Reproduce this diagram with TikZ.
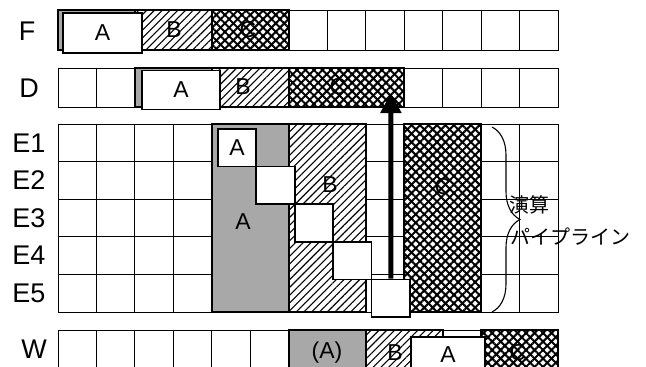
\documentclass[tikz,border=0pt]{standalone}
\usepackage{fontspec}
\setmainfont{Liberation Sans}
\newfontfamily\jpfont{Noto Sans CJK JP}
\usetikzlibrary{patterns.meta,arrows.meta,decorations.pathreplacing}
\tikzset{
 gridl/.style={draw=black, line width=0.9pt},
 rim/.style={draw=black, line width=1.8pt},
 stA/.style={fill=black!34},
 stB/.style={preaction={fill=white}, pattern={Lines[angle=45,distance=5.5pt,line width=1.1pt]}},
 stC/.style={preaction={fill=white}, preaction={pattern={Lines[angle=45,distance=6pt,line width=2pt]}}, pattern={Lines[angle=-45,distance=6pt,line width=2pt]}},
 wbox/.style={draw=black, line width=1.6pt, fill=white, inner sep=0pt, font=\fontsize{23}{23}\selectfont},
 rowlab/.style={font=\fontsize{27}{27}\selectfont, inner sep=0pt},
 stagelet/.style={font=\fontsize{23}{23}\selectfont, inner sep=0pt},
 jptext/.style={font=\jpfont\fontsize{20}{20}\selectfont, inner sep=0pt, anchor=west},
}
\begin{document}
\begin{tikzpicture}[x=1pt,y=-1pt, declare function={cx(\k)=58+38.4615*\k; ey(\r)=124+37.6*\r;}]
\useasboundingbox (0,0) rectangle (646,367);
% grids
\foreach \k in {0,...,12}{
  \draw[gridl] ({cx(\k)},10) rectangle ({cx(\k+1)},50);
  \draw[gridl] ({cx(\k)},68) rectangle ({cx(\k+1)},107);
  \draw[gridl] ({cx(\k)},330) rectangle ({cx(\k+1)},368);
  \foreach \r in {0,...,4}
    \draw[gridl] ({cx(\k)},{ey(\r)}) rectangle ({cx(\k+1)},{ey(\r+1)});
}
% row labels
\node[rowlab] (lF) at (27,31) {F};
\node[rowlab] (lD) at (29,88) {D};
\node[rowlab] (lE1) at (29,143) {E1};
\node[rowlab] (lE2) at (29,180.5) {E2};
\node[rowlab] (lE3) at (29,218) {E3};
\node[rowlab] (lE4) at (29,255.5) {E4};
\node[rowlab] (lE5) at (29,293) {E5};
\node[rowlab] (lW) at (34,349) {W};
% F row
\path[stA,rim] ({cx(0)},10) rectangle ({cx(2)},50);
\path[stB,rim] ({cx(2)},10) rectangle ({cx(4)},50);
\path[stC,rim] ({cx(4)},10) rectangle ({cx(6)},50);
\node[wbox, minimum width=79pt, minimum height=40pt] (fA) at (102.5,33) {A};
\node[stagelet] (fB) at (174,30) {B};
\node[stagelet] (fC) at (248,30) {C};
% D row
\path[stA,rim] ({cx(2)},68) rectangle ({cx(4)},107);
\path[stB,rim] ({cx(4)},68) rectangle ({cx(6)},107);
\path[stC,rim] ({cx(6)},68) rectangle ({cx(9)},107);
\node[wbox, minimum width=78pt, minimum height=39pt] (dA) at (181,90) {A};
\node[stagelet] (dB) at (243,87) {B};
\node[stagelet] (dC) at (338,87) {C};
% E rows
\path[stA,rim] ({cx(4)},{ey(0)}) rectangle ({cx(6)},{ey(5)});
\path[stB,rim] ({cx(6)},{ey(0)}) rectangle ({cx(8)},{ey(5)});
\path[stC,rim] ({cx(9)},{ey(0)}) rectangle ({cx(11)},{ey(5)});
\node[stagelet] (eA) at (243,222) {A};
\node[stagelet] (eB) at (330,185) {B};
\node[stagelet] (eC) at (443,187) {C};
\foreach \i/\t in {1/A,2/,3/,4/,5/}{
  \node[wbox, minimum width=38.5pt, minimum height=37.6pt] (box\i)
    at ({cx(3+\i)+6+19.2},{ey(\i-1)+5+18.8}) {\t};
}
% arrow
\coordinate (tip) at (390.9,93);
\draw[line width=5pt, -{Triangle[length=20pt,width=20pt]}] (box5.north) -- (tip);
% brace and text
\coordinate (brTop) at (492,127);
\coordinate (brBot) at (492,312);
\draw[line width=1.1pt, decorate, decoration={brace, amplitude=28pt, aspect=0.5}] (brTop) -- (brBot);
\node[jptext] (t1) at (509,205) {演算};
\node[jptext] (t2) at (510,237) {パイプライン};
% W row
\path[stA,rim] ({cx(6)},330) rectangle ({cx(8)},368);
\path[stB,rim] ({cx(8)},330) rectangle ({cx(10)},368);
\path[stC,rim] ({cx(11)},330) rectangle ({cx(13)},368);
\node[stagelet] (wA0) at (327,353) {(A)};
\node[stagelet] (wB) at (395,353) {B};
\node[stagelet] (wC) at (518,353) {C};
\node[wbox, minimum width=74pt, minimum height=36pt] (wA) at (448,355) {A};
\end{tikzpicture}
\end{document}
